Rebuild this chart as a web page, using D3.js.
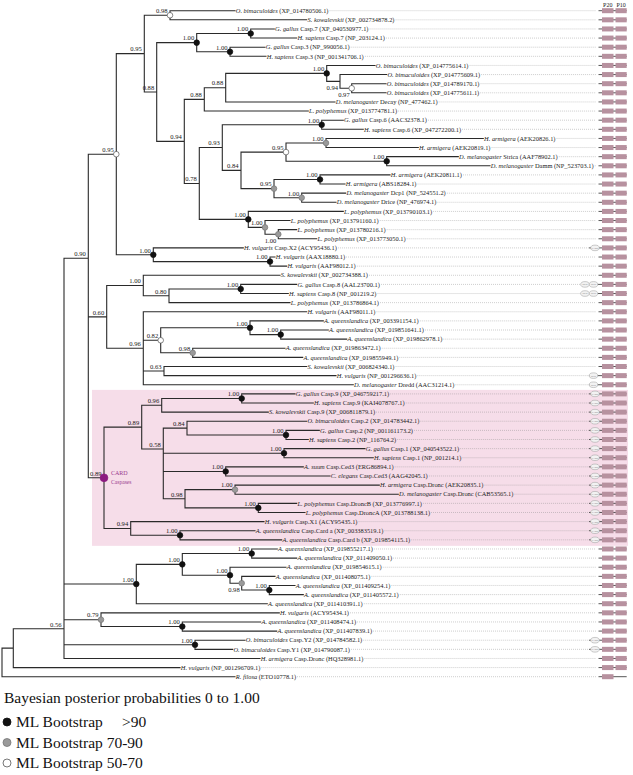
<!DOCTYPE html>
<html><head><meta charset="utf-8">
<script src="https://cdn.jsdelivr.net/npm/d3@7"></script>
<style>body{margin:0;background:#fff}svg{display:block}</style>
</head><body><script>
// ---------------- DATA ----------------
const leafSpecies = ["O. bimaculoides","S. kowalevskii","G. gallus","H. sapiens","G. gallus","H. sapiens","O. bimaculoides","O. bimaculoides","O. bimaculoides","O. bimaculoides","D. melanogaster","L. polyphemus","G. gallus","H. sapiens","H. armigera","H. armigera","D. melanogaster","D. melanogaster","H. armigera","H. armigera","D. melanogaster","D. melanogaster","L. polyphemus","L. polyphemus","L. polyphemus","L. polyphemus","H. vulgaris","H. vulgaris","H. vulgaris","S. kowalevskii","G. gallus","H. sapiens","L. polyphemus","H. vulgaris","A. queenslandica","A. queenslandica","A. queenslandica","A. queenslandica","A. queenslandica","S. kowalevskii","H. vulgaris","D. melanogaster","G. gallus","H. sapiens","S. kowalevskii","O. bimaculoides","G. gallus","H. sapiens","G. gallus","H. sapiens","A. suum","C. elegans","H. armigera","D. melanogaster","L. polyphemus","L. polyphemus","H. vulgaris","A. queenslandica","A. queenslandica","A. queenslandica","A. queenslandica","A. queenslandica","A. queenslandica","A. queenslandica","A. queenslandica","A. queenslandica","H. vulgaris","A. queenslandica","A. queenslandica","O. bimaculoides","O. bimaculoides","H. armigera","H. vulgaris","R. filosa"];
const leafSuffix = [" (XP_014780506.1)"," (XP_002734878.2)"," Casp.7 (XP_040530977.1)"," Casp.7 (NP_203124.1)"," Casp.3 (NP_990056.1)"," Casp.3 (NP_001341706.1)"," (XP_014775614.1)"," (XP_014775609.1)"," (XP_014789170.1)"," (XP_014775611.1)"," Decay (NP_477462.1)"," (XP_013774781.1)"," Casp.6 (AAC32378.1)"," Casp.6 (XP_047272200.1)"," (AEK20826.1)"," (AEK20819.1)"," Strica (AAF78902.1)"," Damm (NP_523703.1)"," (AEK20811.1)"," (ABS18284.1)"," Dcp1 (NP_524551.2)"," Drice (NP_476974.1)"," (XP_013790103.1)"," (XP_013791160.1)"," (XP_013780216.1)"," (XP_013773050.1)"," Casp.X2 (ACY95436.1)"," (AAX18880.1)"," (AAF98012.1)"," (XP_002734388.1)"," Casp.8 (AAL23700.1)"," Casp.8 (NP_001219.2)"," (XP_013786864.1)"," (AAF98011.1)"," (XP_003391154.1)"," (XP_019851641.1)"," (XP_019862978.1)"," (XP_019863472.1)"," (XP_019855949.1)"," (XP_006824340.1)"," (NP_001296636.1)"," Dredd (AAC31214.1)"," Casp.9 (XP_046759217.1)"," Casp.9 (KAI4078767.1)"," Casp.9 (XP_006811879.1)"," Casp.2 (XP_014783442.1)"," Casp.2 (NP_001161173.2)"," Casp.2 (NP_116764.2)"," Casp.1 (XP_040543522.1)"," Casp.1 (NP_001214.1)"," Casp.Ced3 (ERG86894.1)"," Casp.Ced3 (AAG42045.1)"," Casp.Dronc (AEK20835.1)"," Casp.Dronc (CAB53565.1)"," Casp.DroncB (XP_013776997.1)"," Casp.DroncA (XP_013788138.1)"," Casp.X1 (ACY95435.1)"," Casp.Card a (XP_003383519.1)"," Casp.Card b (XP_019854115.1)"," (XP_019855217.1)"," (XP_011409050.1)"," (XP_019854615.1)"," (XP_011408075.1)"," (XP_011409254.1)"," (XP_011405572.1)"," (XP_011410391.1)"," (ACY95434.1)"," (XP_011408474.1)"," (XP_011407839.1)"," Casp.Y2 (XP_014784582.1)"," Casp.Y1 (XP_014790087.1)"," Casp.Dronc (HQ328981.1)"," (NP_001296709.1)"," (ETO10778.1)"];
const leafParent = ["N098a","N098a","N100b","N100b","N100c","N100c","N100d","N094b","N097","N097","N088c","N088b","N100f","N100f","N100g","N100g","N100h","N100h","N100i","N100i","N100j","N100j","N100e","N100k","N100l","N100l","N100m","N100n","N100n","N100o","N100q","N100q","N080","N096a","N100r","N100s","N100s","N098b","N098b","N063","N063","N096a","N100t","N100t","N096b","N084b","N100w","N100w","N100u","N100u","N100v","N100v","N100x","N100x","N100y","N100y","N094c","N100z","N100z","N100ab","N100ab","N100ac","N098d","N100ad","N100ad","N100p","N079","N100ae","N100ae","N100Y","N100Y","B","A","root"];
const leafDepth = [233,304.7,272.3,294.7,263,264,373,384.7,384,384,333,306.3,341.3,361.3,481.3,416.3,456.3,488,388,343,343.7,334,341.3,288,294.7,314.7,241.3,273,284.7,278,294.7,286.3,288,304.7,321.3,326.3,344.7,283,300.7,304.7,334,351.3,293,311.3,266.3,304.7,317.3,306.3,363,371.3,301.3,328,377.3,396.3,294.7,303,262,253,279.7,275.3,294.7,284,273,293,301.3,265.3,277.3,258.7,274.7,243,230.7,258,178,233];
// domain architecture: p = P20+P10, c = CARD+P20+P10, d = DED+P20+P10, dd = DED DED+P20+P10, r = P20 only
const leafDomains = ["p","p","p","p","p","p","p","p","p","p","p","p","p","p","p","p","p","p","p","p","p","p","p","p","p","p","c","p","p","p","dd","dd","p","p","p","p","p","p","p","p","d","d","c","c","c","c","c","c","c","c","c","c","c","c","c","c","c","c","c","p","p","p","p","p","p","p","p","p","p","c","c","p","p","r"];

const nodeIds     = ["root","A","B","C","N095m","N095a","N098a","N088a","N100a","N100b","N100c","N094a","N088b","N088c","N100d","N094b","N097","N078","N093","N100f","N084a","N095b","N100g","N100h","N095c","N100i","N100j","N100e","N100k","N100l","N100m","N100n","N060","N100o","N080","N100q","N096a","N082","N100r","N100s","N098b","N063","CARD","N089b","N096b","N100t","N058","N084b","N100w","N100u","N100v","N098c","N100x","N100y","N094c","N100z","N100p","N100aa","N100ab","N100ac","N098d","N100ad","N079","N100ae","N100Y"];
const nodeParent  = ["","root","A","B","C","N095m","N095a","N095a","N088a","N100a","N100a","N088a","N094a","N088b","N088c","N100d","N094b","N094a","N078","N093","N093","N084a","N095b","N095b","N084a","N095c","N095c","N078","N100e","N100k","N095m","N100m","C","N060","N100o","N080","N060","N096a","N082","N100r","N082","N096a","C","CARD","N089b","N096b","N089b","N058","N084b","N058","N058","N058","N098c","N098c","CARD","N094c","B","N100p","N100aa","N100aa","N100ac","N098d","B","N079","B"];
const nodeDepth   = [0,11.3,62,86.3,114.3,142.3,168,154.7,194.7,248.7,228,182.3,202.3,223.7,324.7,338,349.7,197.3,220.3,319.7,239,284,324,384.7,272,318,299.7,246.3,263,276.3,151.3,268,104.7,141.3,167,238.7,141.3,158.7,248,278.7,190.7,162,102,139.7,159.7,239.7,161.3,185,284,282,223.7,183,233,256.3,128.7,178,134.3,180.3,249.7,228,239.7,267.3,99,180.3,193];
const nodeSupport = ["","","0.56","0.90","0.95","0.95","0.98","0.88","1.00","1.00","1.00","0.94","0.88","0.88","1.00","0.94","0.97","0.78","0.93","1.00","0.84","0.95","1.00","1.00","0.95","1.00","1.00","1.00","1.00","1.00","1.00","1.00","0.60","1.00","0.80","1.00","0.96","0.82","1.00","1.00","0.98","0.63","0.89","0.89","0.96","1.00","0.58","0.84","1.00","1.00","1.00","0.98","1.00","1.00","0.94","1.00","1.00","1.00","1.00","1.00","0.98","1.00","0.79","1.00","1.00"];
// ML bootstrap class: b = >90, g = 70-90, w = 50-70, p = CARD caspase marker
const nodeBoot    = ["","","","","w","","w","","b","b","b","","","","b","","w","","","b","","w","g","b","g","b","g","b","g","g","b","b","","","","b","","w","b","b","g","","p","","","b","","","b","b","b","","g","b","","b","b","b","b","b","g","b","g","b","b"];
const labelBelow  = ["N094b","N097","N100l","N098d"];
const rowOverrideIds = ["C","B","N058"];
const rowOverrideVal = [27.14,67.74,48.04];

const domainHeaders = ["P20","P10"];
const legendTitle = "Bayesian posterior probabilities 0 to 1.00";
const legendBoot  = ["b","g","w"];
const legendText  = ["ML Bootstrap","ML Bootstrap 70-90","ML Bootstrap 50-70"];
const legendExtra = [">90","",""];

// ---------------- LAYOUT ----------------
const W = 633, H = 775;
const FONT = "'Liberation Serif','Times New Roman',serif";
const svg = d3.select("body").append("svg").attr("width", W).attr("height", H).style("font-family", FONT);

const x = d3.scaleLinear().domain([0, 500]).range([2, 502]);
const y = d3.scaleLinear().domain([0, leafSpecies.length - 1]).range([10.7, 676.7]);

const table = nodeIds.map((id, i) => ({id, parent: nodeParent[i] || null, depth: nodeDepth[i], support: nodeSupport[i], boot: nodeBoot[i]}))
  .concat(leafSpecies.map((s, i) => ({id: "L" + i, parent: leafParent[i], depth: leafDepth[i], row: i, species: s, suffix: leafSuffix[i], domain: leafDomains[i]})));

const root = d3.stratify().id(d => d.id).parentId(d => d.parent)(table);
root.eachAfter(n => {
  n.px = x(n.data.depth);
  if (!n.children) { n.py = y(n.data.row); return; }
  const oi = rowOverrideIds.indexOf(n.data.id);
  if (oi >= 0) n.py = y(rowOverrideVal[oi]);
  else { const ys = n.children.map(c => c.py); n.py = (d3.min(ys) + d3.max(ys)) / 2; }
});

// pink CARD-caspase highlight
const cardNode = root.find(n => n.data.id === "CARD");
const cardLeaves = cardNode.leaves();
const cTop = d3.min(cardLeaves, l => l.py) - 4, cBot = d3.max(cardLeaves, l => l.py) + 6;
svg.append("rect").attr("x", cardNode.px - 12).attr("y", cTop).attr("width", 628 - (cardNode.px - 12)).attr("height", cBot - cTop)
  .attr("fill", "#f6dde9");

// branches
const g = svg.append("g");
const paths = [];
root.descendants().forEach(n => {
  if (n.parent) paths.push(`M${n.parent.px},${n.py}H${n.px}`);
  if (n.children) {
    const ys = n.children.map(c => c.py).concat([n.py]);
    paths.push(`M${n.px},${d3.min(ys)}V${d3.max(ys)}`);
  }
});
g.append("path").attr("d", paths.join("")).attr("fill", "none").attr("stroke", "#2a2a2a").attr("stroke-width", 1.1).attr("stroke-linecap", "square");

// support labels
root.descendants().filter(n => n.children && n.data.support).forEach(n => {
  const below = labelBelow.includes(n.data.id);
  g.append("text").attr("x", n.px - (below ? 2 : 2.5)).attr("y", below ? n.py + 9 : n.py - 2.2)
    .attr("text-anchor", "end").attr("font-size", 6.6).attr("fill", "#222").text(n.data.support);
});

// bootstrap dots
const bootFill = {b: "#111", g: "#9a9a9a", w: "#fff", p: "#8c1a80"};
const bootStroke = {b: "#111", g: "#777", w: "#555", p: "#8c1a80"};
root.descendants().filter(n => n.data.boot).forEach(n => {
  g.append("circle").attr("cx", n.px).attr("cy", n.py).attr("r", n.data.boot === "p" ? 3.9 : 2.8)
    .attr("fill", bootFill[n.data.boot]).attr("stroke", bootStroke[n.data.boot]).attr("stroke-width", 0.7);
});
svg.append("text").attr("x", cardNode.px + 7).attr("y", cardNode.py - 2.5).attr("font-size", 6).attr("fill", "#9a3a8e").text("CARD");
svg.append("text").attr("x", cardNode.px + 7).attr("y", cardNode.py + 6.3).attr("font-size", 5.6).attr("fill", "#9a3a8e").text("Caspases");

// leaf labels, leaders, domains
const domX = {leadEnd: 589, ded1: 585, ded2: 593.5, card: 595, bar0: 598.5, b1a: 602, b1b: 613.5, b2a: 615.5, b2b: 626.7};
const boxH = 5;
root.leaves().forEach(l => {
  const t = g.append("text").attr("x", l.px + 0.8).attr("y", l.py + 2.2).attr("font-size", 6.4).attr("fill", "#222");
  t.append("tspan").attr("font-style", "italic").text(l.data.species);
  t.append("tspan").text(l.data.suffix);
  const end = l.px + 0.8 + t.node().getComputedTextLength() + 1.2;
  const dom = l.data.domain;
  const leadEnd = dom === "dd" ? domX.ded1 - 4 : (dom === "c" || dom === "d") ? domX.leadEnd : 596;
  if (end < leadEnd) g.append("line").attr("x1", end).attr("x2", leadEnd).attr("y1", l.py).attr("y2", l.py)
    .attr("stroke", "#8a8a8a").attr("stroke-width", 0.6).attr("stroke-dasharray", "0.7,1.3");
  g.append("line").attr("x1", dom === "p" || dom === "r" ? domX.bar0 : leadEnd).attr("x2", domX.b2b).attr("y1", l.py).attr("y2", l.py)
    .attr("stroke", "#444").attr("stroke-width", 0.9);
  const ell = (cx, txt) => {
    g.append("ellipse").attr("cx", cx).attr("cy", l.py).attr("rx", 4.3).attr("ry", 2.8).attr("fill", "#f2f2f2").attr("stroke", "#9a9a9a").attr("stroke-width", 0.5);
    g.append("text").attr("x", cx).attr("y", l.py + 0.9).attr("text-anchor", "middle").attr("font-size", 2.4).attr("fill", "#666").text(txt);
  };
  if (dom === "c") ell(domX.card, "CARD");
  if (dom === "d") ell(domX.card - 1.5, "DED");
  if (dom === "dd") { ell(domX.ded1, "DED"); ell(domX.ded2, "DED"); }
  g.append("rect").attr("x", domX.b1a).attr("y", l.py - boxH / 2).attr("width", domX.b1b - domX.b1a).attr("height", boxH).attr("fill", "#b7919f");
  if (dom !== "r") g.append("rect").attr("x", domX.b2a).attr("y", l.py - boxH / 2).attr("width", domX.b2b - domX.b2a).attr("height", boxH).attr("fill", "#b7919f");
});
svg.append("text").attr("x", (domX.b1a + domX.b1b) / 2).attr("y", 6.5).attr("text-anchor", "middle").attr("font-size", 6).attr("fill", "#222").text(domainHeaders[0]);
svg.append("text").attr("x", (domX.b2a + domX.b2b) / 2).attr("y", 6.5).attr("text-anchor", "middle").attr("font-size", 6).attr("fill", "#222").text(domainHeaders[1]);

// legend
svg.append("text").attr("x", 4).attr("y", 703).attr("font-size", 15.5).attr("fill", "#111").text(legendTitle);
legendBoot.forEach((b, i) => {
  const by = 727 + i * 20.5;
  svg.append("circle").attr("cx", 7).attr("cy", by - 5).attr("r", 4).attr("fill", bootFill[b]).attr("stroke", bootStroke[b]).attr("stroke-width", 0.8);
  svg.append("text").attr("x", 16).attr("y", by).attr("font-size", 15.5).attr("fill", "#111").text(legendText[i]);
  if (legendExtra[i]) svg.append("text").attr("x", 122).attr("y", by).attr("font-size", 15.5).attr("fill", "#111").text(legendExtra[i]);
});
</script></body></html>
